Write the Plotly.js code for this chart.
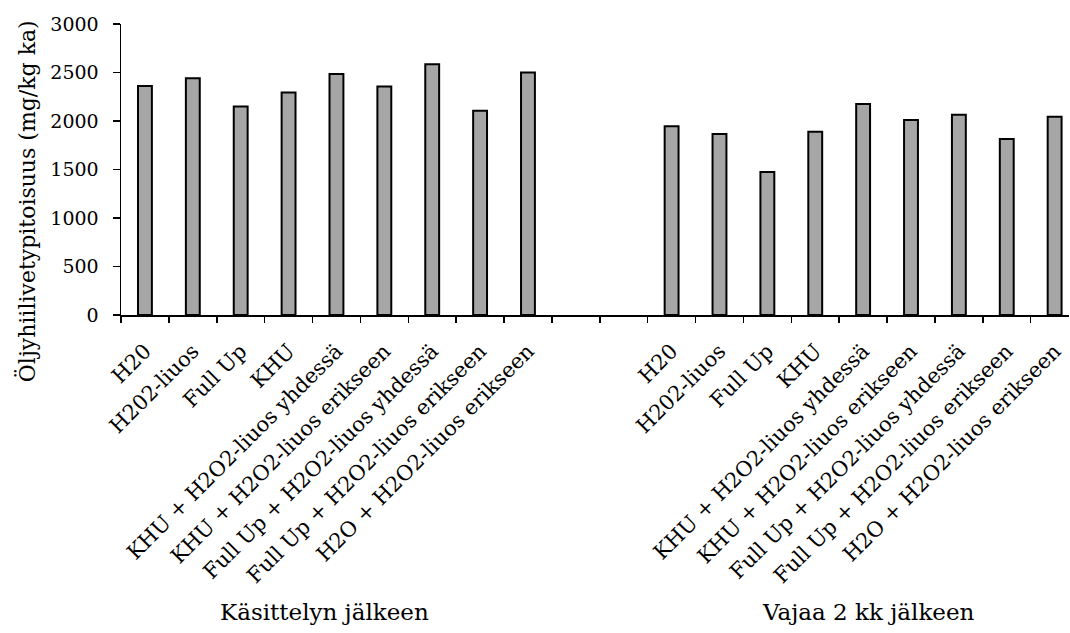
<!DOCTYPE html>
<html>
<head>
<meta charset="utf-8">
<script src="https://cdn.plot.ly/plotly-3.0.1.min.js"></script>
<style>
  html, body { margin: 0; padding: 0; background: #ffffff; }
  #chart { width: 1070px; height: 633px; }
</style>
</head>
<body>
<div id="chart"></div>
<script>
// Treatment labels (same order in both sampling rounds)
const treatments = [
  "H20",
  "H202-liuos",
  "Full Up",
  "KHU",
  "KHU + H2O2-liuos yhdessä",
  "KHU + H2O2-liuos erikseen",
  "Full Up + H2O2-liuos yhdessä",
  "Full Up + H2O2-liuos erikseen",
  "H2O + H2O2-liuos erikseen"
];

// Sampling rounds
const groupNames = ["Käsittelyn jälkeen", "Vajaa 2 kk jälkeen"];

// Oil hydrocarbon content, mg/kg dry matter
const afterTreatment = [2360, 2440, 2150, 2295, 2485, 2355, 2585, 2105, 2500];
const afterTwoMonths = [1945, 1865, 1475, 1890, 2175, 2010, 2065, 1815, 2045];

// Y axis ticks
const yTicks = [0, 500, 1000, 1500, 2000, 2500, 3000];

// Two empty slots separate the rounds on the category axis
const gapSlots = 2;

const n = treatments.length;
const xFirst = treatments.map((_, i) => i);
const xSecond = treatments.map((_, i) => n + gapSlots + i);
const xAll = xFirst.concat(xSecond);
const yAll = afterTreatment.concat(afterTwoMonths);
const labelsAll = treatments.concat(treatments);
const totalSlots = 2 * n + gapSlots;

const boundaries = [];
for (let k = 0; k <= totalSlots; k++) boundaries.push(k - 0.5);

const serif = "DejaVu Serif, Liberation Serif, serif";

const trace = {
  type: "bar",
  x: xAll,
  y: yAll,
  width: 0.29,
  marker: { color: "#a6a6a6", line: { color: "#000000", width: 2 } },
  hoverinfo: "skip",
  showlegend: false
};

// Invisible helper trace carrying the boundary tick axis
const tickTrace = {
  type: "scatter",
  x: [boundaries[0], boundaries[boundaries.length - 1]],
  y: [0, 0],
  xaxis: "x2",
  mode: "markers",
  marker: { opacity: 0 },
  hoverinfo: "skip",
  showlegend: false
};

const xRange = [-0.5, totalSlots - 0.7];

const layout = {
  width: 1070,
  height: 633,
  margin: { l: 121, r: 1, t: 24, b: 318 },
  paper_bgcolor: "#ffffff",
  plot_bgcolor: "#ffffff",
  font: { family: serif, color: "#000000", size: 19 },
  bargap: 0,
  xaxis: {
    type: "linear",
    range: xRange,
    tickmode: "array",
    tickvals: xAll,
    ticktext: labelsAll,
    tickangle: -45,
    ticks: "",
    ticklabelstandoff: 14,
    showgrid: false,
    zeroline: false,
    showline: true,
    linecolor: "#000000",
    linewidth: 1.5,
    tickfont: { family: serif, size: 21, color: "#000000" },
    fixedrange: true
  },
  xaxis2: {
    type: "linear",
    overlaying: "x",
    matches: "x",
    side: "bottom",
    range: xRange,
    tickmode: "array",
    tickvals: boundaries,
    ticks: "outside",
    ticklen: 7,
    tickwidth: 1.5,
    tickcolor: "#000000",
    showticklabels: false,
    showgrid: false,
    zeroline: false,
    showline: false
  },
  yaxis: {
    range: [0, 3000],
    tickmode: "array",
    tickvals: yTicks,
    ticks: "outside",
    ticklen: 7,
    tickwidth: 1.5,
    tickcolor: "#000000",
    ticklabelstandoff: 10,
    showgrid: false,
    zeroline: false,
    showline: true,
    linecolor: "#000000",
    linewidth: 1.5,
    tickfont: { family: serif, size: 19, color: "#000000" },
    fixedrange: true
  },
  annotations: [
    {
      text: "Öljyhiilivetypitoisuus (mg/kg ka)",
      xref: "paper", yref: "paper",
      x: 0, y: 1.02,
      xanchor: "center", yanchor: "top",
      xshift: -94,
      textangle: -90,
      showarrow: false,
      font: { family: serif, size: 22, color: "#000000" }
    },
    {
      text: groupNames[0],
      xref: "x", yref: "paper",
      x: (n - 1) / 2, y: 0,
      xanchor: "center", yanchor: "middle",
      xshift: -12, yshift: -297,
      showarrow: false,
      font: { family: serif, size: 23, color: "#000000" }
    },
    {
      text: groupNames[1],
      xref: "x", yref: "paper",
      x: n + gapSlots + (n - 1) / 2, y: 0,
      xanchor: "center", yanchor: "middle",
      xshift: 5, yshift: -297,
      showarrow: false,
      font: { family: serif, size: 23, color: "#000000" }
    }
  ]
};

Plotly.newPlot("chart", [trace, tickTrace], layout, { displayModeBar: false, staticPlot: true });
</script>
</body>
</html>
